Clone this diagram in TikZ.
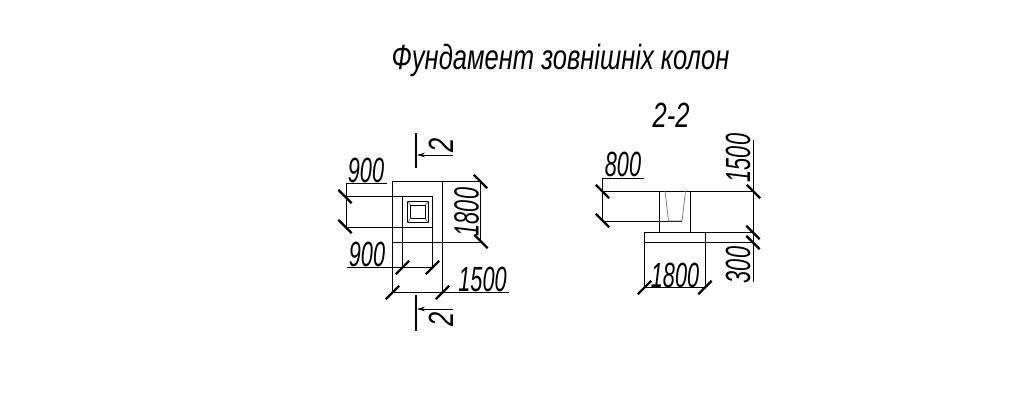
\documentclass[tikz,border=0pt]{standalone}
\usepackage{fontspec}
\setmainfont[FakeStretch=0.62]{Liberation Sans}
\newfontfamily\widefont[FakeStretch=0.73]{Liberation Sans}
\usepackage{tikz}
\usetikzlibrary{arrows.meta}

\tikzset{
    thin line/.style={line width=1pt},
    gray line/.style={line width=.7pt, black!55},
    tick mark/.style={line width=2.2pt},
    cut line/.style={line width=1.8pt},
    cut arrow/.style={line width=.8pt, {Stealth[length=8pt,width=4.5pt]}-},
    dim text/.style={inner sep=0pt, font=\fontsize{35}{35}\selectfont\itshape},
    wide text/.style={inner sep=0pt, font=\fontsize{35}{35}\selectfont\widefont\itshape},
}

\begin{document}
\begin{tikzpicture}[x=1pt, y=-1pt]
        \useasboundingbox (0, 0) rectangle (1024, 418);

        \node[wide text] (title) at (560.5, 60) {Фундамент зовнішніх колон};
        \node[wide text] (cutname) at (671, 115) {2-2};

        \coordinate (cutTopA) at (416, 133);
        \coordinate (cutTopB) at (416, 168);
        \coordinate (cutTopC) at (417, 155);
        \coordinate (cutTopD) at (453, 155);
        \coordinate (cutBotA) at (416, 295);
        \coordinate (cutBotB) at (416, 331);
        \coordinate (cutBotC) at (417, 309);
        \coordinate (cutBotD) at (453, 309);

        \draw[cut line] (cutTopA) -- (cutTopB);
        \draw[cut arrow] (cutTopC) -- (cutTopD);
        \draw[cut line] (cutBotA) -- (cutBotB);
        \draw[cut arrow] (cutBotC) -- (cutBotD);
        \node[wide text, rotate=90] (cutTop) at (441.5, 145) {2};
        \node[wide text, rotate=90] (cutBot) at (441.5, 319) {2};

        \draw[thin line] (480, 181.5) -- (392.5, 181.5) -- (392.5, 292) -- (509, 292);
        \draw[thin line] (442, 181.5) -- (442, 292);
        \draw[thin line] (392.5, 242.5) -- (480, 242.5);
        \draw[thin line] (480, 181.5) -- (480, 242.5);
        \draw[thin line] (346, 183) -- (387, 183);
        \draw[thin line] (346, 183) -- (346, 227);
        \draw[thin line] (346, 196) -- (432, 196);
        \draw[thin line] (346, 227) -- (432, 227);
        \draw[thin line] (402.5, 196) -- (402.5, 267);
        \draw[thin line] (432, 196) -- (432, 267);
        \draw[thin line] (347, 267) -- (432, 267);

        \draw[thin line] (407.5, 201.5) rectangle (428.5, 222.5);
        \draw[thin line] (410.5, 205) rectangle (425, 218.5);
        \draw[gray line] (407.5, 201.5) -- (410.5, 205);
        \draw[gray line] (428.5, 201.5) -- (425, 205);
        \draw[gray line] (407.5, 222.5) -- (410.5, 218.5);
        \draw[gray line] (428.5, 222.5) -- (425, 218.5);

        \node[dim text] (planA) at (366, 170) {900};
        \node[dim text] (planB) at (367, 254) {900};
        \node[dim text] (planC) at (482.5, 279) {1500};
        \node[dim text, rotate=90] (planD) at (466.5, 212) {1800};

        \draw[thin line] (602, 178) -- (644, 178);
        \draw[thin line] (602, 178) -- (602, 221);
        \draw[thin line] (602, 191) -- (753, 191);
        \draw[thin line] (602, 221) -- (682, 221);
        \draw[thin line] (659.5, 191) -- (659.5, 232);
        \draw[thin line] (690, 191) -- (690, 232);
        \draw[gray line] (665, 191) -- (668.5, 221) -- (682, 221) -- (685.5, 191);
        \draw[thin line] (644, 232) -- (753, 232);
        \draw[thin line] (644, 242) -- (753, 242);
        \draw[thin line] (644, 232) -- (644, 287) -- (705, 287) -- (705, 232);
        \draw[thin line] (753, 140) -- (753, 282);

        \node[dim text] (cutA) at (623, 164) {800};
        \node[dim text] (cutB) at (675, 275) {1800};
        \node[dim text, rotate=90] (cutC) at (738, 158) {1500};
        \node[dim text, rotate=90] (cutD) at (738, 265) {300};

        \foreach \x/\y in {345/196.5, 345/226.5, 480.5/181.5, 481/241.5, 602.5/191.5, 602.5/220.5, 753.5/191.5, 753/232.5, 753/242.5}
            \draw[tick mark] (\x-6.7, \y-6.7) -- (\x+6.7, \y+6.7);
        \foreach \x/\y in {402.5/267.5, 432.5/267.5, 392.5/292.5, 442.5/292.5, 644.5/287.5, 705/287.5}
            \draw[tick mark] (\x-6.7, \y+6.7) -- (\x+6.7, \y-6.7);
        \end{tikzpicture}
\end{document}
